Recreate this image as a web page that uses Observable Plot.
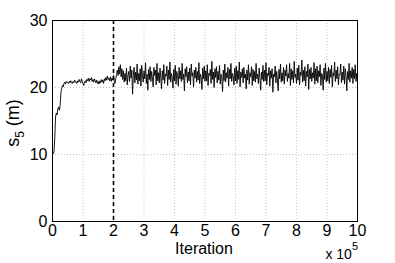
<!DOCTYPE html>
<html><head><meta charset="utf-8">
<script src="https://cdn.jsdelivr.net/npm/d3@7"></script>
<script src="https://cdn.jsdelivr.net/npm/@observablehq/plot@0.6"></script>
<style>body{margin:0;background:#fff} svg{display:block}</style>
</head><body><div id="chart"></div>
<script>
// s5 trace values, one every 2500 iterations
const s5 = [
10.0,10.1,10.4,12.5,15.6,16.2,15.9,16.8,17.1,16.6,
17.3,19.2,19.8,20.3,20.1,20.6,20.8,20.5,20.9,20.7,
20.8,20.6,20.9,20.7,21.0,20.8,20.6,20.9,20.7,21.1,
20.8,20.9,20.6,21.0,20.8,21.2,20.9,20.7,21.3,20.9,
20.6,20.3,20.8,21.0,20.7,21.2,21.0,21.4,20.9,21.3,
21.1,21.5,20.9,21.2,20.8,21.3,21.0,20.7,21.1,20.6,
20.9,20.5,21.0,20.7,21.2,20.8,21.1,20.6,21.3,21.0,
21.5,21.1,21.7,21.2,21.4,21.0,21.6,20.9,21.4,21.1,
21.8,21.0,20.6,21.3,21.9,22.6,21.8,23.1,22.0,23.4,
21.6,22.8,21.2,22.5,20.8,22.1,21.0,22.9,20.4,21.8,
22.4,
20.9,23.2,21.4,22.6,19.0,21.8,23.0,20.7,22.3,21.1,
23.5,20.5,22.1,21.0,22.8,20.2,23.3,21.6,20.8,22.5,
21.3,23.7,20.6,22.0,19.6,22.7,21.2,23.1,20.9,22.4,
21.5,20.1,23.0,21.8,22.6,20.4,23.6,21.0,22.2,20.7,
22.9,21.4,19.8,22.5,21.1,23.4,20.6,22.0,21.7,23.2,
20.3,22.6,21.2,23.8,20.8,22.1,21.5,19.9,22.7,21.0,
23.3,20.5,22.4,21.8,20.2,23.0,21.3,22.5,20.9,23.6,
21.2,22.0,19.5,22.8,21.6,23.1,20.7,22.3,21.0,22.9,
20.4,23.5,21.7,22.2,20.1,22.6,21.4,23.0,20.8,22.4,
21.1,23.7,20.6,22.0,21.5,19.7,22.9,21.3,23.2,20.9,
22.5,21.0,23.4,20.3,22.1,21.8,22.7,20.6,23.9,21.2,
22.3,20.0,22.8,21.5,23.1,20.7,22.4,21.1,23.3,20.5,
22.0,21.6,19.4,22.6,21.0,23.5,20.8,22.2,21.4,23.0,
20.2,22.7,21.3,23.6,20.9,22.1,21.7,20.4,22.9,21.0,
23.2,20.6,22.5,21.2,23.8,20.1,22.3,21.5,22.8,20.7,
23.0,21.4,22.0,19.8,22.6,21.1,23.4,20.5,22.2,21.6,
23.1,20.3,22.7,21.0,22.4,20.8,23.6,21.3,22.0,20.6,
22.9,21.5,19.6,22.3,21.2,23.3,20.9,22.6,21.0,23.7,
20.4,22.1,21.8,23.0,20.2,22.5,21.4,22.8,19.3,22.0,
21.6,23.2,20.7,22.4,21.1,19.5,22.7,21.3,23.5,20.8,
22.2,21.0,23.0,20.5,22.6,21.7,23.4,20.9,22.1,21.4,
23.6,20.3,22.8,21.2,22.5,20.7,23.9,21.5,22.0,20.6,
22.9,21.1,23.3,20.4,22.3,21.8,24.1,20.8,22.6,21.0,
23.1,20.2,22.4,21.6,23.5,19.7,22.7,21.3,23.0,20.9,
22.2,21.4,23.7,20.5,22.8,21.0,23.2,20.7,22.5,21.6,
23.4,20.3,22.1,21.8,19.6,22.9,21.2,23.6,20.8,22.4,
21.0,23.0,20.6,22.7,21.5,23.3,20.1,22.2,21.7,23.8,
20.9,22.6,21.3,23.1,20.4,22.0,21.9,23.5,20.7,22.3,
21.1,23.2,20.5,22.8,21.6,19.5,22.4,21.2,23.6,20.8,
22.5,21.4,23.0,20.6,22.7,21.3,23.4,20.9,22.1,21.5
];
const iterStep = 2500;          // iterations between stored samples
const xScaleFactor = 1e5;       // axis shown in units of 10^5
const xTicks = [0,1,2,3,4,5,6,7,8,9,10];
const yTicks = [0,10,20,30];
const burnIn = [2];
const xLabel = "Iteration";
const yLabelMain = "s";
const yLabelSub = "5";
const yLabelUnit = " (m)";
const expBase = "x 10";
const expPow = "5";

const data = s5.map((v, i) => ({x: i * iterStep / xScaleFactor, y: v}));
const FONT = "'Liberation Sans', Arial, sans-serif";

const chart = Plot.plot({
  width: 395, height: 263,
  marginLeft: 52, marginRight: 38, marginTop: 20, marginBottom: 42,
  style: {fontFamily: FONT, fontSize: "16px", background: "white", color: "black", overflow: "visible"},
  x: {domain: [0, 10]},
  y: {domain: [0, 30]},
  marks: [
    Plot.gridX(xTicks.slice(1, -1), {stroke: "#c4c4c4", strokeOpacity: 1, strokeDasharray: "1,2"}),
    Plot.gridY(yTicks.slice(1, -1), {stroke: "#c4c4c4", strokeOpacity: 1, strokeDasharray: "1,2"}),
    Plot.line(data, {x: "x", y: "y", stroke: "black", strokeWidth: 0.9}),
    Plot.ruleX(burnIn, {stroke: "black", strokeWidth: 1.6, strokeDasharray: "4,3"}),
    Plot.frame({stroke: "black", strokeWidth: 1}),
    Plot.axisX(xTicks, {tickSize: 0, tickPadding: 3, label: null, fontSize: 16}),
    Plot.axisY(yTicks, {tickSize: 0, tickPadding: 5, label: null, fontSize: 16})
  ]
});

const svg = d3.select(chart);
svg.append("text")
  .attr("x", 204).attr("y", 254)
  .attr("text-anchor", "middle")
  .attr("font-size", 16)
  .attr("font-family", FONT)
  .attr("fill", "black")
  .text(xLabel);
const ex = svg.append("text")
  .attr("x", 358).attr("y", 259)
  .attr("text-anchor", "end")
  .attr("font-size", 14)
  .attr("font-family", FONT)
  .attr("fill", "black");
ex.append("tspan").text(expBase);
ex.append("tspan").attr("font-size", 11).attr("dy", -9).text(expPow);
const yl = svg.append("text")
  .attr("transform", "translate(19,123) rotate(-90)")
  .attr("text-anchor", "middle")
  .attr("font-size", 18)
  .attr("font-family", FONT)
  .attr("fill", "black");
yl.append("tspan").text(yLabelMain);
yl.append("tspan").attr("font-size", 12).attr("dy", 5).text(yLabelSub);
yl.append("tspan").attr("dy", -5).text(yLabelUnit);

document.getElementById("chart").appendChild(chart);
</script>
</body></html>
